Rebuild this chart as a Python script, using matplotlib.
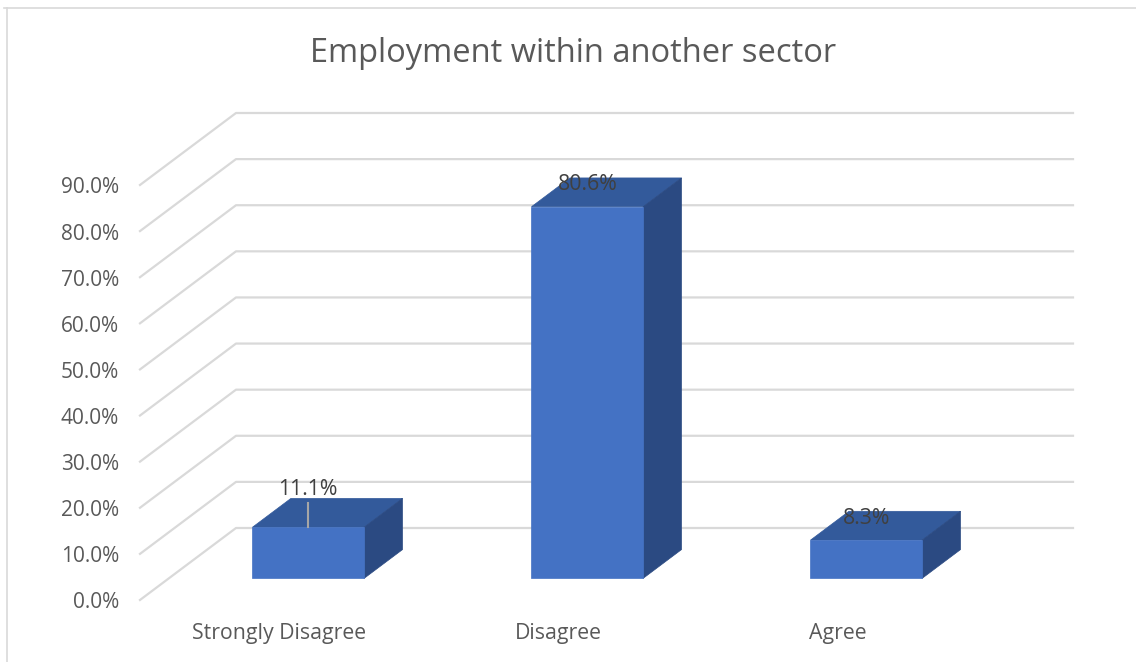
import matplotlib
matplotlib.use("Agg")
import matplotlib.pyplot as plt
from matplotlib.patches import Polygon
from matplotlib.lines import Line2D

categories = ["Strongly Disagree", "Disagree", "Agree"]
shares = [11.1, 80.6, 8.3]
y_ticks = [0, 10, 20, 30, 40, 50, 60, 70, 80, 90]
title = "Employment within another sector"

FRONT = "#4472C4"
TOP = "#335A9B"
SIDE = "#2B4A82"
GRID = "#D9D9D9"
TEXT = "#595959"

# oblique depth offset of the floor (front edge relative to back wall)
DX, DY = 0.3441, 15.61
BAR_W = 0.4
F_FRONT, F_BACK = 0.7, 0.3

W_PX, H_PX = 1136, 662
fig = plt.figure(figsize=(W_PX / 100, H_PX / 100), dpi=100)
ax = fig.add_axes([0, 0, 1, 1])
ax.set_axis_off()

# back wall spans x 236..1073 px, y 528 (0%) .. 113 (90%) px
px_per_cat = (1073 - 236) / 3
px_per_pct = (528 - 113) / 90
ax.set_xlim(-236 / px_per_cat, (W_PX - 236) / px_per_cat)
ax.set_ylim(-(H_PX - 528) / px_per_pct, 528 / px_per_pct)


def proj(x, y, f):
    return (x - f * DX, y - f * DY)


font = ["Open Sans", "DejaVu Sans"]

# gridlines: diagonal along the left wall, then across the back wall
for v in y_ticks:
    fx, fy = proj(0, v, 1.0)
    ax.add_line(Line2D([fx, 0, len(categories)], [fy, v, v], color=GRID, lw=1.6, zorder=1))
    ax.text(fx - 21 / px_per_cat, fy - 3 / px_per_pct, f"{v:.1f}%", ha="right", va="center",
            fontsize=15, color=TEXT, family=font)

for i, (name, val) in enumerate(zip(categories, shares)):
    c = i + 0.5
    x0, x1 = c - BAR_W / 2, c + BAR_W / 2
    fl = proj(x0, 0, F_FRONT); fr = proj(x1, 0, F_FRONT)
    tl = proj(x0, val, F_FRONT); tr = proj(x1, val, F_FRONT)
    bl = proj(x0, val, F_BACK); br = proj(x1, val, F_BACK)
    brb = proj(x1, 0, F_BACK)
    ax.add_patch(Polygon([tl, tr, br, bl], closed=True, fc=TOP, ec=TOP, lw=0.5, zorder=3))
    ax.add_patch(Polygon([fr, tr, br, brb], closed=True, fc=SIDE, ec=SIDE, lw=0.5, zorder=3))
    ax.add_patch(Polygon([fl, fr, tr, tl], closed=True, fc=FRONT, ec=FRONT, lw=0.5, zorder=4))

    # category label under the front edge of the floor
    cx, cy = proj(c, 0, 1.0)
    ax.text(cx, cy - 34 / px_per_pct, name, ha="center", va="center",
            fontsize=15.3, color=TEXT, family=font)

    # value label above the bar
    lx, ly = proj(c, val, F_FRONT)
    lift = 38 if i == 0 else 22
    ax.text(lx, ly + lift / px_per_pct, f"{val:.1f}%", ha="center", va="center",
            fontsize=15.3, color="#404040", family=font, zorder=5)
    if i == 0:
        ax.add_line(Line2D([lx, lx], [ly, ly + 24 / px_per_pct], color="#A6A6A6",
                           lw=1.5, zorder=5))

fig.text(573 / W_PX, 1 - 54 / H_PX, title, ha="center", va="center",
         fontsize=23.5, color=TEXT, family=font)

# chart area border (top and left edges)
fig.add_artist(Line2D([4 / W_PX, 1], [1 - 8 / H_PX, 1 - 8 / H_PX],
                      transform=fig.transFigure, color=GRID, lw=1.2))
fig.add_artist(Line2D([7 / W_PX, 7 / W_PX], [0, 1 - 8 / H_PX],
                      transform=fig.transFigure, color=GRID, lw=1.2))

fig.savefig("out.png", dpi=100, facecolor="white")
